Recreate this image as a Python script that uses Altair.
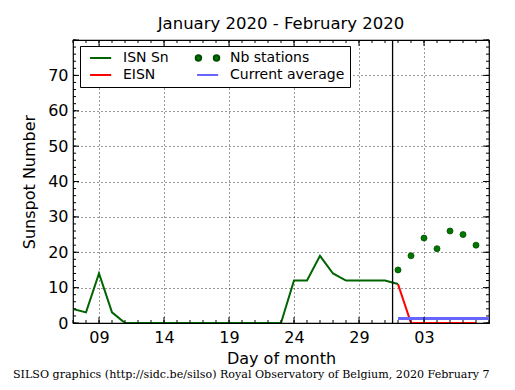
import altair as alt
import pandas as pd

# ---------------- data ----------------
isn_dates = pd.date_range("2020-01-07", "2020-02-01").strftime("%Y-%m-%d").tolist()
isn_values = [4, 3, 14, 3, 0, 0, 0, 0, 0, 0, 0, 0, 0, 0, 0, 0, 0,
              12, 12, 19, 14, 12, 12, 12, 12, 11]

eisn_dates = pd.date_range("2020-02-01", "2020-02-07").strftime("%Y-%m-%d").tolist()
eisn_values = [11, 0, 0, 0, 0, 0, 0]

nb_dates = eisn_dates
nb_values = [15, 19, 24, 21, 26, 25, 22]

avg_dates = ["2020-02-01", "2020-02-08"]
avg_values = [1.3, 1.3]

now_marker = ["2020-01-31T14:00:00Z"]

series_names = ["ISN Sn", "Nb stations", "EISN", "Current average"]
series_colors = ["#006400", "#004d00", "#ff0000", "#6666ff"]
series_fills = ["#006400", "#007800", "#ff0000", "#6666ff"]

LINE_PATH = "M -0.7,0 L 7,0"
DOTS_PATH = ("M -1.2,0 A 1,1 0 1,0 0.8,0 A 1,1 0 1,0 -1.2,0 Z "
             "M 5.4,0 A 1,1 0 1,0 7.4,0 A 1,1 0 1,0 5.4,0 Z")
series_shapes = [LINE_PATH, DOTS_PATH, LINE_PATH, LINE_PATH]

x_major = ["2020-01-09", "2020-01-14", "2020-01-19", "2020-01-24", "2020-01-29", "2020-02-03"]
x_minor = pd.date_range("2020-01-07", "2020-02-08").strftime("%Y-%m-%d").tolist()
y_major = [0, 10, 20, 30, 40, 50, 60, 70, 80]
y_minor = list(range(0, 81, 2))

W, H = 416, 283

# ---------------- tables ----------------
isn_df = pd.DataFrame({"date": isn_dates, "value": isn_values, "series": "ISN Sn"})
eisn_df = pd.DataFrame({"date": eisn_dates, "value": eisn_values, "series": "EISN"})
avg_df = pd.DataFrame({"date": avg_dates, "value": avg_values, "series": "Current average"})
nb_df = pd.DataFrame({"date": nb_dates, "value": nb_values, "series": "Nb stations"})


def dt(s):
    y, m, d = [int(v) for v in s.split("-")]
    return alt.DateTime(year=y, month=m, date=d, utc=True)


xscale = alt.Scale(type="utc", domain=[dt("2020-01-07"), dt("2020-02-08")], nice=False)
yscale = alt.Scale(domain=[0, 80], nice=False, zero=False)
cscale = alt.Scale(domain=series_names, range=series_colors)
fscale = alt.Scale(domain=series_names, range=series_fills)
sscale = alt.Scale(domain=series_names, range=series_shapes)

xaxis = alt.Axis(values=[dt(s) for s in x_major], labelExpr="utcFormat(datum.value, '%d')",
                 title="Day of month", labelPadding=6, titlePadding=5)
yaxis = alt.Axis(values=[0, 10, 20, 30, 40, 50, 60, 70], title="Sunspot Number",
                 labelPadding=5, titlePadding=10)

X = alt.X("date:T", scale=xscale, axis=xaxis)
Y = alt.Y("value:Q", scale=yscale, axis=yaxis)

legend = alt.Legend(title=None, orient="none", legendX=7, legendY=6, columns=2,
                    direction="horizontal", strokeColor="black", fillColor="white",
                    padding=5, labelFontSize=14, labelFont="DejaVu Sans", labelColor="black",
                    symbolStrokeWidth=2, symbolSize=30, columnPadding=22, rowPadding=3,
                    labelOffset=24, cornerRadius=0)

C = alt.Color("series:N", scale=cscale, legend=legend)
F = alt.Fill("series:N", scale=fscale, legend=legend)
S = alt.Shape("series:N", scale=sscale, legend=legend)

# legend-only layer (no marks drawn)
legend_layer = alt.Chart(nb_df).transform_filter("false").mark_point(
    filled=False, strokeWidth=2, size=30, opacity=1).encode(x=X, y=Y, color=C, fill=F, shape=S)


def line_layer(df, width):
    return alt.Chart(df).mark_line(strokeWidth=width, clip=True).encode(x=X, y=Y, color=C)


points = alt.Chart(nb_df).mark_point(filled=False, strokeWidth=0.8, size=36, opacity=1,
                                     shape="circle").encode(x=X, y=Y, color=C, fill=F)

vline = alt.Chart(pd.DataFrame({"date": now_marker})).mark_rule(
    color="black", strokeWidth=1.3).encode(x=X)


def xticks(days, length):
    df = pd.DataFrame({"date": days})
    bot = alt.Chart(df).mark_rule(color="black", strokeWidth=1).encode(
        x=X, y=alt.value(H), y2=alt.value(H - length))
    top = alt.Chart(df).mark_rule(color="black", strokeWidth=1).encode(
        x=X, y=alt.value(0), y2=alt.value(length))
    return [bot, top]


def yticks(vals, length):
    df = pd.DataFrame({"value": vals})
    left = alt.Chart(df).mark_rule(color="black", strokeWidth=1).encode(
        y=Y, x=alt.value(0), x2=alt.value(length))
    right = alt.Chart(df).mark_rule(color="black", strokeWidth=1).encode(
        y=Y, x=alt.value(W - length), x2=alt.value(W))
    return [left, right]


footer_text = ["SILSO graphics (http://sidc.be/silso) Royal Observatory of Belgium, 2020 February 7"]
footer = alt.Chart(pd.DataFrame({"t": footer_text})).mark_text(
    font="DejaVu Serif", fontSize=11.1, align="left", baseline="middle", color="black"
).encode(text="t:N", x=alt.value(-60), y=alt.value(335))

layers = [
    legend_layer,
    line_layer(isn_df, 2),
    line_layer(eisn_df, 2),
    line_layer(avg_df, 3),
    points,
    vline,
    *xticks(x_minor, 3), *xticks(x_major, 6),
    *yticks(y_minor, 3), *yticks(y_major, 6),
    footer,
]

chart = alt.layer(*layers).properties(
    width=W, height=H,
    title=alt.TitleParams("January 2020 - February 2020", fontSize=16.5, font="DejaVu Sans",
                          fontWeight="normal", color="black", offset=7, anchor="middle"),
    padding={"left": 65, "top": 32, "right": 18, "bottom": 59},
    autosize=alt.AutoSizeParams(type="none"),
).configure_axis(
    labelFont="DejaVu Sans", labelFontSize=16, labelColor="black",
    titleFont="DejaVu Sans", titleFontSize=16, titleFontWeight="normal", titleColor="black",
    domain=False, ticks=False, grid=True, gridColor="black", gridDash=[1, 3], gridWidth=0.8,
    gridOpacity=1,
).configure_view(stroke="black", strokeWidth=1.2)

chart.save("out.html", embed_options={"renderer": "svg", "actions": False})
